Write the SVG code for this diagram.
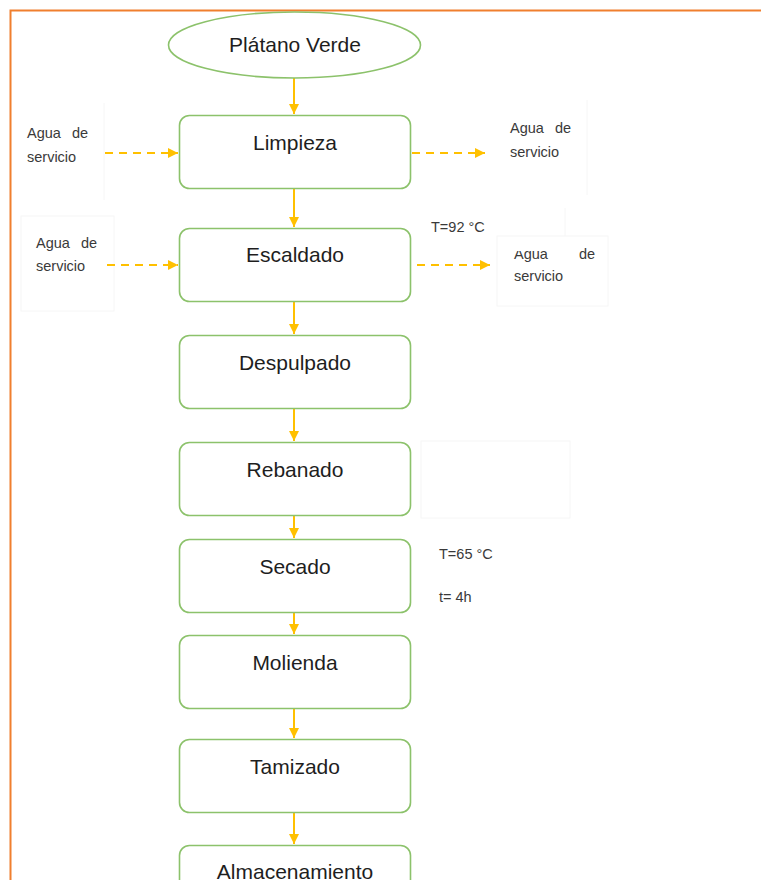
<svg xmlns="http://www.w3.org/2000/svg" width="761" height="880" viewBox="0 0 761 880">
<style>
.node{fill:#fff;stroke:#8cc26b;stroke-width:1.6}
.nt{font-family:"Liberation Sans",Arial,sans-serif;font-size:21px;fill:#1e1e1e;text-anchor:middle}
.lbl{font-family:"Liberation Sans",Arial,sans-serif;font-size:14.5px;fill:#3a3a3a}
.flow{stroke:#ffc000;stroke-width:2;fill:none}
.dash{stroke:#ffc000;stroke-width:2;fill:none;stroke-dasharray:8,6}
.faint{fill:none;stroke:#f6f6f6;stroke-width:1}
</style>
<defs>
<marker id="ah" viewBox="0 0 10 10" refX="10" refY="5" markerWidth="10" markerHeight="10" markerUnits="userSpaceOnUse" orient="auto">
<path d="M0,0 L10,5 L0,10 z" fill="#ffc000"/>
</marker>
<clipPath id="cl"><rect x="490" y="251" width="130" height="60"/></clipPath>
</defs>
<rect width="761" height="880" fill="#fff"/>
<path d="M10.5,880 V10.5 H761" fill="none" stroke="#f07f2e" stroke-width="2"/>
<g id="faint-boxes">
<path class="faint" d="M104,103 V200"/>
<path class="faint" d="M587,100 V195"/>
<rect class="faint" x="21" y="216" width="93" height="95"/>
<rect class="faint" x="497" y="236" width="111" height="70"/>
<path class="faint" d="M565,208 V236"/>
<rect class="faint" x="421" y="441" width="149" height="77"/>
</g>
<g id="connectors">
<line class="flow" x1="294" y1="78" x2="294" y2="114" marker-end="url(#ah)"/>
<line class="flow" x1="294" y1="189" x2="294" y2="227" marker-end="url(#ah)"/>
<line class="flow" x1="294" y1="301" x2="294" y2="334" marker-end="url(#ah)"/>
<line class="flow" x1="294" y1="409" x2="294" y2="441" marker-end="url(#ah)"/>
<line class="flow" x1="294" y1="516" x2="294" y2="538" marker-end="url(#ah)"/>
<line class="flow" x1="294" y1="612" x2="294" y2="634" marker-end="url(#ah)"/>
<line class="flow" x1="294" y1="709" x2="294" y2="738" marker-end="url(#ah)"/>
<line class="flow" x1="294" y1="812" x2="294" y2="844" marker-end="url(#ah)"/>
<line class="dash" x1="105" y1="153" x2="178" y2="153" marker-end="url(#ah)"/>
<line class="dash" x1="412" y1="153" x2="485" y2="153" marker-end="url(#ah)"/>
<line class="dash" x1="107" y1="265" x2="178" y2="265" marker-end="url(#ah)"/>
<line class="dash" x1="417" y1="265" x2="490" y2="265" marker-end="url(#ah)"/>
</g>
<g id="n-platano">
<ellipse class="node" cx="294.5" cy="45" rx="126" ry="33"/>
<text class="nt" x="295" y="52">Plátano Verde</text>
</g>
<g id="n-limpieza">
<rect class="node" x="179.5" y="115.5" width="231" height="73" rx="10"/>
<text class="nt" x="295" y="150">Limpieza</text>
</g>
<g id="n-escaldado">
<rect class="node" x="179.5" y="228.5" width="231" height="73" rx="10"/>
<text class="nt" x="295" y="262">Escaldado</text>
</g>
<g id="n-despulpado">
<rect class="node" x="179.5" y="335.5" width="231" height="73" rx="10"/>
<text class="nt" x="295" y="370">Despulpado</text>
</g>
<g id="n-rebanado">
<rect class="node" x="179.5" y="442.5" width="231" height="73" rx="10"/>
<text class="nt" x="295" y="477">Rebanado</text>
</g>
<g id="n-secado">
<rect class="node" x="179.5" y="539.5" width="231" height="73" rx="10"/>
<text class="nt" x="295" y="574">Secado</text>
</g>
<g id="n-molienda">
<rect class="node" x="179.5" y="635.5" width="231" height="73" rx="10"/>
<text class="nt" x="295" y="670">Molienda</text>
</g>
<g id="n-tamizado">
<rect class="node" x="179.5" y="739.5" width="231" height="73" rx="10"/>
<text class="nt" x="295" y="774">Tamizado</text>
</g>
<g id="n-almacenamiento">
<rect class="node" x="179.5" y="845.5" width="231" height="73" rx="10"/>
<text class="nt" x="295" y="879">Almacenamiento</text>
</g>
<g id="labels">
<text class="lbl" y="138"><tspan x="27">Agua</tspan><tspan x="72">de</tspan></text>
<text class="lbl" x="27" y="162">servicio</text>
<text class="lbl" y="133"><tspan x="510">Agua</tspan><tspan x="555">de</tspan></text>
<text class="lbl" x="510" y="157">servicio</text>
<text class="lbl" y="248"><tspan x="36">Agua</tspan><tspan x="81">de</tspan></text>
<text class="lbl" x="36" y="271">servicio</text>
<text class="lbl" x="431" y="232">T=92 °C</text>
<text class="lbl" x="514" y="259" clip-path="url(#cl)">Agua</text>
<text class="lbl" x="579" y="259">de</text>
<text class="lbl" x="514" y="281">servicio</text>
<text class="lbl" x="439" y="559">T=65 °C</text>
<text class="lbl" x="439" y="602">t= 4h</text>
</g>
</svg>
